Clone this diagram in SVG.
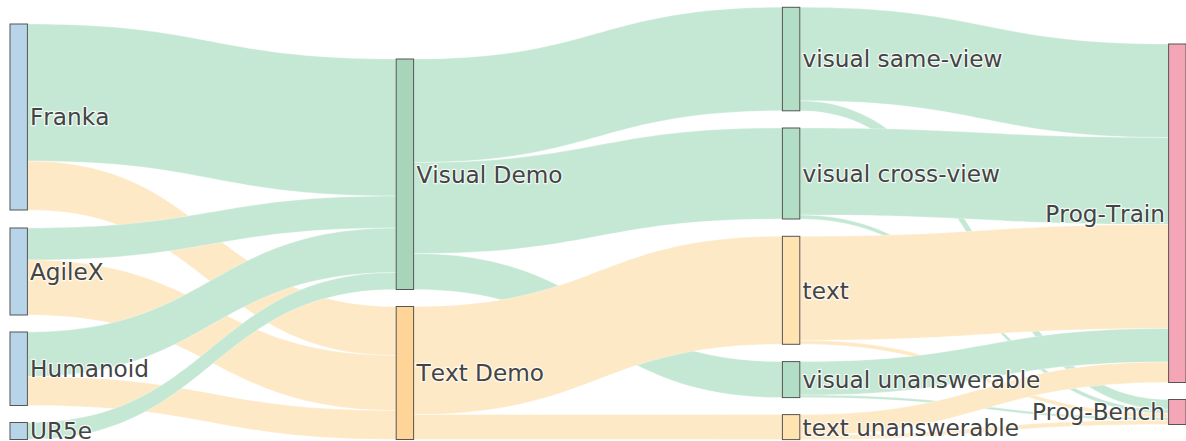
<svg xmlns="http://www.w3.org/2000/svg" width="1186" height="441" viewBox="0 0 1186 441">
<style>
.lg{fill:#c5e8d5;stroke:#ffffff;stroke-width:0.5;stroke-opacity:0.6}
.lo{fill:#fee9c6;stroke:#ffffff;stroke-width:0.5;stroke-opacity:0.6}
.n{stroke:#555555;stroke-width:1}
.src{fill:#b8d4e8}
.vd{fill:#a8d4b9}
.td{fill:#ffd597}
.mg{fill:#b3dec6}
.mo{fill:#ffe3b1}
.pk{fill:#f4a6b7}
text{font-family:"DejaVu Sans","Liberation Sans",sans-serif;font-size:23.2px;font-kerning:none;fill:#444444;stroke:#ffffff;stroke-width:2.5;stroke-opacity:0.75;stroke-linejoin:round;paint-order:stroke fill}
.r{text-anchor:end}
</style>
<rect width="1186" height="441" fill="#ffffff"/>
<g id="links">
<path class="lg" d="M27.4,24 C211.8,24 211.8,59 396.2,59 L396.2,196 C211.8,196 211.8,161 27.4,161 Z"/>
<path class="lo" d="M27.4,161 C211.8,161 211.8,306.5 396.2,306.5 L396.2,355.5 C211.8,355.5 211.8,210 27.4,210 Z"/>
<path class="lg" d="M27.4,228 C211.8,228 211.8,196 396.2,196 L396.2,228 C211.8,228 211.8,260 27.4,260 Z"/>
<path class="lo" d="M27.4,260 C211.8,260 211.8,355.5 396.2,355.5 L396.2,410.5 C211.8,410.5 211.8,315 27.4,315 Z"/>
<path class="lg" d="M27.4,332 C211.8,332 211.8,228 396.2,228 L396.2,272.5 C211.8,272.5 211.8,376.5 27.4,376.5 Z"/>
<path class="lo" d="M27.4,376.5 C211.8,376.5 211.8,410.5 396.2,410.5 L396.2,439.5 C211.8,439.5 211.8,405.5 27.4,405.5 Z"/>
<path class="lg" d="M27.4,422.5 C211.8,422.5 211.8,272.5 396.2,272.5 L396.2,289.5 C211.8,289.5 211.8,439.5 27.4,439.5 Z"/>
<path class="lg" d="M413.6,59 C598,59 598,7.3 782.4,7.3 L782.4,110.8 C598,110.8 598,162.5 413.6,162.5 Z"/>
<path class="lg" d="M413.6,162.5 C598,162.5 598,128 782.4,128 L782.4,219 C598,219 598,253.5 413.6,253.5 Z"/>
<path class="lg" d="M413.6,253.5 C598,253.5 598,361.6 782.4,361.6 L782.4,397.6 C598,397.6 598,289.5 413.6,289.5 Z"/>
<path class="lo" d="M413.6,306.5 C598,306.5 598,236.3 782.4,236.3 L782.4,344.3 C598,344.3 598,414.5 413.6,414.5 Z"/>
<path class="lo" d="M413.6,414.5 C598,414.5 598,414.6 782.4,414.6 L782.4,439.6 C598,439.6 598,439.5 413.6,439.5 Z"/>
<path class="lg" d="M799.8,7.3 C984.2,7.3 984.2,44 1168.6,44 L1168.6,137.5 C984.2,137.5 984.2,100.8 799.8,100.8 Z"/>
<path class="lg" d="M799.8,100.8 C984.2,100.8 984.2,399.5 1168.6,399.5 L1168.6,409.5 C984.2,409.5 984.2,110.8 799.8,110.8 Z"/>
<path class="lg" d="M799.8,128 C984.2,128 984.2,137.5 1168.6,137.5 L1168.6,224.5 C984.2,224.5 984.2,215 799.8,215 Z"/>
<path class="lg" d="M799.8,215 C984.2,215 984.2,409.5 1168.6,409.5 L1168.6,413.5 C984.2,413.5 984.2,219 799.8,219 Z"/>
<path class="lo" d="M799.8,236.3 C984.2,236.3 984.2,224.5 1168.6,224.5 L1168.6,328.5 C984.2,328.5 984.2,340.3 799.8,340.3 Z"/>
<path class="lo" d="M799.8,340.3 C984.2,340.3 984.2,413.5 1168.6,413.5 L1168.6,417.5 C984.2,417.5 984.2,344.3 799.8,344.3 Z"/>
<path class="lg" d="M799.8,361.6 C984.2,361.6 984.2,328.5 1168.6,328.5 L1168.6,362 C984.2,362 984.2,395.1 799.8,395.1 Z"/>
<path class="lg" d="M799.8,395.1 C984.2,395.1 984.2,417.5 1168.6,417.5 L1168.6,420 C984.2,420 984.2,397.6 799.8,397.6 Z"/>
<path class="lo" d="M799.8,414.6 C984.2,414.6 984.2,362 1168.6,362 L1168.6,382.5 C984.2,382.5 984.2,435.1 799.8,435.1 Z"/>
<path class="lo" d="M799.8,435.1 C984.2,435.1 984.2,420 1168.6,420 L1168.6,424.5 C984.2,424.5 984.2,439.6 799.8,439.6 Z"/>
</g>
<g id="node-franka"><rect class="n src" x="10" y="24" width="17.4" height="186"/><text x="30" y="125.4">Franka</text></g>
<g id="node-agilex"><rect class="n src" x="10" y="228" width="17.4" height="87"/><text x="30" y="279.9">AgileX</text></g>
<g id="node-humanoid"><rect class="n src" x="10" y="332" width="17.4" height="73.5"/><text x="30" y="377.2">Humanoid</text></g>
<g id="node-ur5e"><rect class="n src" x="10" y="422.5" width="17.4" height="17"/><text x="30" y="439">UR5e</text></g>
<g id="node-visual-demo"><rect class="n vd" x="396.2" y="59" width="17.4" height="230.5"/><text x="416.5" y="182.6">Visual Demo</text></g>
<g id="node-text-demo"><rect class="n td" x="396.2" y="306.5" width="17.4" height="133"/><text x="416.5" y="381.4">Text Demo</text></g>
<g id="node-visual-same-view"><rect class="n mg" x="782.4" y="7.3" width="17.4" height="103.5"/><text x="802.6" y="67.4">visual same-view</text></g>
<g id="node-visual-cross-view"><rect class="n mg" x="782.4" y="128" width="17.4" height="91"/><text x="802.6" y="181.9">visual cross-view</text></g>
<g id="node-text"><rect class="n mo" x="782.4" y="236.3" width="17.4" height="108"/><text x="802.6" y="298.7">text</text></g>
<g id="node-visual-unanswerable"><rect class="n mg" x="782.4" y="361.6" width="17.4" height="36"/><text x="802.6" y="388">visual unanswerable</text></g>
<g id="node-text-unanswerable"><rect class="n mo" x="782.4" y="414.6" width="17.4" height="25"/><text x="802.6" y="435.5">text unanswerable</text></g>
<g id="node-prog-train"><rect class="n pk" x="1168.6" y="44" width="17.4" height="338.5"/><text class="r" x="1165" y="221.6">Prog-Train</text></g>
<g id="node-prog-bench"><rect class="n pk" x="1168.6" y="399.5" width="17.4" height="25"/><text class="r" x="1165" y="420">Prog-Bench</text></g>
</svg>
